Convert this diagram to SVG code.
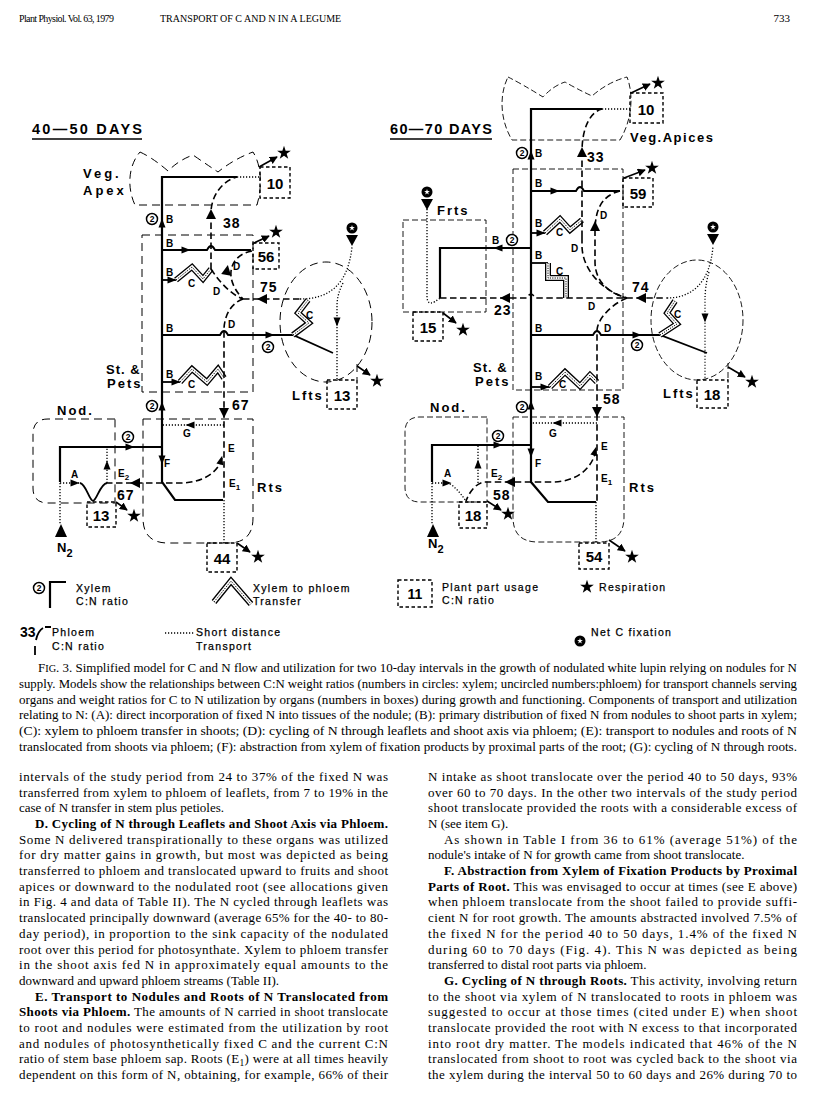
<svg xmlns="http://www.w3.org/2000/svg" xmlns:xlink="http://www.w3.org/1999/xlink" width="816" height="1102" viewBox="0 0 816 1102">
<style>
.xy{fill:none;stroke:#000;stroke-width:2.2}
.x1{fill:none;stroke:#000;stroke-width:1.8}
.ph{fill:none;stroke:#000;stroke-width:1.6;stroke-dasharray:6.5 3.5}
.dt{fill:none;stroke:#000;stroke-width:1.3;stroke-dasharray:1.2 1.8}
.org{fill:none;stroke:#000;stroke-width:1;stroke-dasharray:8 5}
.orgR{fill:none;stroke:#000;stroke-width:0.9;stroke-dasharray:6 3}
.box{fill:none;stroke:#000;stroke-width:1.4;stroke-dasharray:3.5 2.5}
.ra{fill:none;stroke:#000;stroke-width:1.6;marker-end:url(#mk)}
.t1{fill:none;stroke:#000;stroke-width:6}
.t2{fill:none;stroke:#fff;stroke-width:3.4}
.t3{fill:none;stroke:#000;stroke-width:1;stroke-dasharray:1.2 1.2}
.lb{font-family:"Liberation Sans",Arial,sans-serif;font-weight:bold;font-size:13px;letter-spacing:2px}
.sm{font-family:"Liberation Sans",Arial,sans-serif;font-weight:bold;font-size:10px}
.bn{font-family:"Liberation Sans",Arial,sans-serif;font-weight:bold;font-size:15px;text-anchor:middle}
.pn{font-family:"Liberation Sans",Arial,sans-serif;font-weight:bold;font-size:14px;letter-spacing:1px}
.ttl{font-family:"Liberation Sans",Arial,sans-serif;font-weight:bold;font-size:14.5px}
.lg{font-family:"Liberation Sans",Arial,sans-serif;font-size:10.5px;letter-spacing:1.3px;stroke:#000;stroke-width:0.25}
.c2t{font-family:"Liberation Sans",Arial,sans-serif;font-weight:bold;font-size:8.5px;text-anchor:middle}
.hd{font-family:"Liberation Serif","Times New Roman",serif;font-size:10px}
.cap{font-family:"Liberation Serif","Times New Roman",serif;font-size:12px}
.bd{font-family:"Liberation Serif","Times New Roman",serif;font-size:13px}
.bb{font-weight:bold}
</style>
<defs>
<path id="star" d="M0,-7.2 L1.63,-2.24 L6.85,-2.22 L2.64,0.85 L4.23,5.83 L0,2.77 L-4.23,5.83 L-2.64,0.85 L-6.85,-2.22 L-1.63,-2.24 Z"/>
<polygon id="ah" points="-4.5,-3.5 4.5,0 -4.5,3.5"/>
<polygon id="pa" points="-5,-5 5,0 -5,5"/>
<g id="cfix"><circle r="5.5" fill="#000"/><use xlink:href="#star" transform="scale(0.42)" fill="#fff"/><polygon points="-6,7 6,7 0,18" fill="#000"/></g>
<g id="c2"><circle r="5.5" fill="#fff" stroke="#000" stroke-width="1.5"/><text y="3.2" class="c2t">2</text></g>
<marker id="mk" viewBox="0 0 10 10" refX="9" refY="5" markerWidth="5" markerHeight="5" orient="auto"><path d="M0,0 L10,5 L0,10 Z"/></marker>
<path id="zL1" d="M176,280 L192,267 L203,279 L211,269"/>
<path id="zL2" d="M293,335 L309,323 L298,313 L308,300"/>
<path id="zL3" d="M180,382 L192,369 L207,382 L218,369 L224,378"/>
<path id="zR1" d="M545,233 L560,219 L570,230 L582,220"/>
<path id="zR2" d="M548,263 V278 H566 V298"/>
<path id="zR3" d="M660,335 L677,324 L667,313 L675,301"/>
<path id="zR4" d="M550,387 L565,372 L580,386 L590,375 L597,382"/>
<path id="zLg" d="M214,602 L231,581 L251,604"/>
</defs>
<rect width="816" height="1102" fill="#fff"/>

<g id="header">
<text class="hd" x="19" y="22" textLength="95">Plant Physiol. Vol. 63, 1979</text>
<text class="hd" x="160" y="22">TRANSPORT OF C AND N IN A LEGUME</text>
<text class="hd" x="790" y="22" text-anchor="end" style="font-size:11px">733</text>
</g>

<!-- LEFT DIAGRAM -->
<g id="left-title">
<text class="ttl" x="32" y="134" textLength="110">40—50 DAYS</text>
<line x1="32" y1="139" x2="142" y2="139" stroke="#000" stroke-width="1.5"/>
</g>
<g id="L-apex">
<path class="org" d="M140,152 Q153,158 168,171 Q179,160 193,155 Q206,164 218,172 Q234,159 253,152 C262,166 262,188 257,205 H135 C127,188 128,166 140,152 Z"/>
<text class="lb" x="83" y="178" style="letter-spacing:3px">Veg.</text>
<text class="lb" x="83" y="195" style="letter-spacing:3px">Apex</text>
<rect class="box" x="260" y="167" width="30" height="31"/>
<text class="bn" x="275" y="189">10</text>
<path class="ra" d="M259,167 L277,157"/>
<use xlink:href="#star" x="284" y="153"/>
</g>
<g id="L-stem">
<rect class="org" x="142" y="235" width="111" height="157"/>
<text class="lb" x="106" y="374" style="letter-spacing:1px">St. &amp;</text>
<text class="lb" x="107" y="388">Pets</text>
<rect class="box" x="253" y="243" width="26" height="26"/>
<text class="bn" x="266" y="262">56</text>
<path class="ra" d="M254,243 L269,236"/>
<use xlink:href="#star" x="276" y="232"/>
</g>
<g id="L-leaflets">
<ellipse class="org" cx="326" cy="322" rx="46" ry="60"/>
<path class="org" d="M357,364 V380"/>
<rect class="box" x="327" y="380" width="30" height="29"/>
<text class="bn" x="342" y="401">13</text>
<text class="lb" x="292" y="400">Lfts</text>
<path class="ra" d="M357,366 L370,375"/>
<use xlink:href="#star" x="377" y="381"/>
<use xlink:href="#cfix" x="352" y="228"/>
</g>
<g id="L-roots">
<path class="org" d="M143,419 H253 V518 Q253,543 228,543 H168 Q143,543 143,518 Z"/>
<text class="lb" x="257" y="492">Rts</text>
<rect class="box" x="207" y="543" width="30" height="29"/>
<text class="bn" x="222" y="564">44</text>
<path class="ra" d="M237,543 L250,552"/>
<use xlink:href="#star" x="258" y="557"/>
</g>
<g id="L-nodules">
<path class="org" d="M115,419 H48 Q33,419 33,434 V488 Q33,503 48,503 H115 Z"/>
<text class="lb" x="57" y="415">Nod.</text>
<rect class="box" x="87" y="502" width="29" height="25"/>
<text class="bn" x="101" y="521">13</text>
<path class="ra" d="M116,502 L127,510"/>
<use xlink:href="#star" x="134" y="516"/>
<polygon points="55,537 67,537 61,524" fill="#000"/>
<text class="lb" x="57" y="552" style="letter-spacing:0">N<tspan dy="5" font-size="11">2</tspan></text>
</g>
<g id="L-connectors">
<path class="xy" d="M237,177 H162 V482 L175,500 H223"/>
<path class="xy" d="M60,482 V447 H162"/>
<path class="x1" d="M162,250 H207 Q211,242 215,250 H251"/>
<path class="x1" d="M162,280 H176"/>
<path class="x1" d="M162,335 H220 Q224,327 228,335 H293 L333,353"/>
<path class="x1" d="M162,382 H180"/>
<path class="x1" d="M80,483 C86,484 89,500 93,501 C97,500 100,484 107,483"/>
<use xlink:href="#zL1" class="t1"/><use xlink:href="#zL1" class="t2"/><use xlink:href="#zL1" class="t3"/>
<use xlink:href="#zL2" class="t1"/><use xlink:href="#zL2" class="t2"/><use xlink:href="#zL2" class="t3"/>
<use xlink:href="#zL3" class="t1"/><use xlink:href="#zL3" class="t2"/><use xlink:href="#zL3" class="t3"/>
<path class="ph" d="M211,269 V213 C211,196 222,181 237,177"/>
<path class="ph" d="M252,251 C232,254 221,276 243,299"/>
<path class="ph" d="M211,269 C220,283 232,295 243,299"/>
<path class="ph" d="M243,299 H300"/>
<path class="ph" d="M243,299 C231,303 224,316 224,330 V500"/>
<path class="ph" d="M222,458 C218,474 200,483 180,483 H107"/>
<path class="dt" d="M237,177 H260"/>
<path class="dt" d="M300,299 C330,299 348,284 352,247"/>
<path class="dt" d="M343,283 C339,291 337,298 337,306 V380"/>
<path class="dt" d="M224,425 H162"/>
<path class="dt" d="M224,500 V543"/>
<path class="dt" d="M60,483 H80"/>
<path class="dt" d="M107,483 V447"/>
<path class="dt" d="M60,483 V524"/>
<use xlink:href="#ah" transform="translate(162,223) rotate(-90)"/>
<use xlink:href="#ah" transform="translate(162,406) rotate(-90)"/>
<use xlink:href="#ah" transform="translate(162,460) rotate(90)"/>
<use xlink:href="#ah" transform="translate(186,250)"/>
<use xlink:href="#ah" transform="translate(172,280)"/>
<use xlink:href="#ah" transform="translate(270,335)"/>
<use xlink:href="#ah" transform="translate(176,382)"/>
<use xlink:href="#ah" transform="translate(130,447)"/>
<use xlink:href="#ah" transform="translate(75,483)"/>
<use xlink:href="#ah" transform="translate(107,465) rotate(-90)"/>
<use xlink:href="#ah" transform="translate(190,425) rotate(180)"/>
<use xlink:href="#ah" transform="translate(337,322) rotate(90)"/>
<use xlink:href="#pa" transform="translate(211,214) rotate(-90)"/>
<use xlink:href="#pa" transform="translate(227,270) rotate(-80)"/>
<use xlink:href="#pa" transform="translate(262,299) rotate(180)"/>
<use xlink:href="#pa" transform="translate(224,413) rotate(90)"/>
<use xlink:href="#pa" transform="translate(135,483) rotate(180)"/>
<use xlink:href="#ah" transform="translate(221,460) rotate(-75)"/>
</g>
<g id="L-labels">
<use xlink:href="#c2" x="152" y="219"/>
<use xlink:href="#c2" x="152" y="406"/>
<use xlink:href="#c2" x="128" y="437"/>
<use xlink:href="#c2" x="268" y="347"/>
<text class="sm" x="166" y="223">B</text>
<text class="sm" x="166" y="247">B</text>
<text class="sm" x="166" y="276">B</text>
<text class="sm" x="166" y="332">B</text>
<text class="sm" x="166" y="378">B</text>
<text class="sm" x="188" y="287">C</text>
<text class="sm" x="306" y="319">C</text>
<text class="sm" x="188" y="388">C</text>
<text class="sm" x="233" y="270">D</text>
<text class="sm" x="213" y="295">D</text>
<text class="sm" x="228" y="328">D</text>
<text class="sm" x="228" y="452">E</text>
<text class="sm" x="229" y="487">E<tspan dy="3" font-size="8">1</tspan></text>
<text class="sm" x="164" y="467">F</text>
<text class="sm" x="183" y="437">G</text>
<text class="sm" x="71" y="478">A</text>
<text class="sm" x="118" y="477">E<tspan dy="3" font-size="8">2</tspan></text>
<text class="pn" x="223" y="228">38</text>
<text class="pn" x="260" y="292">75</text>
<text class="pn" x="232" y="410">67</text>
<text class="pn" x="117" y="500">67</text>
</g>

<!-- RIGHT DIAGRAM -->
<g id="right-title">
<text class="ttl" x="390" y="134" textLength="102">60—70 DAYS</text>
<line x1="390" y1="139" x2="492" y2="139" stroke="#000" stroke-width="1.5"/>
</g>
<g id="R-apices">
<path class="orgR" d="M508,77 Q522,84 543,97 Q553,86 565,82 Q577,89 592,96 Q608,82 627,77 C634,95 632,120 620,140 H512 C500,120 499,95 508,77 Z"/>
<text class="lb" x="630" y="142" style="letter-spacing:1.5px">Veg.Apices</text>
<rect class="box" x="630" y="93" width="33" height="30"/>
<text class="bn" x="646" y="115">10</text>
<path class="ra" d="M631,93 L650,84"/>
<use xlink:href="#star" x="658" y="83"/>
</g>
<g id="R-fruits">
<rect class="orgR" x="403" y="220" width="83" height="92"/>
<text class="lb" x="437" y="215">Frts</text>
<use xlink:href="#cfix" x="427" y="192"/>
<rect class="box" x="413" y="312" width="30" height="29"/>
<text class="bn" x="428" y="333">15</text>
<path class="ra" d="M443,313 L456,323"/>
<use xlink:href="#star" x="463" y="330"/>
</g>
<g id="R-stem">
<rect class="orgR" x="513" y="169" width="110" height="221"/>
<text class="lb" x="473" y="372" style="letter-spacing:1px">St. &amp;</text>
<text class="lb" x="475" y="386">Pets</text>
<rect class="box" x="623" y="178" width="30" height="29"/>
<text class="bn" x="638" y="199">59</text>
<path class="ra" d="M624,178 L645,170"/>
<use xlink:href="#star" x="652" y="168"/>
</g>
<g id="R-leaflets">
<ellipse class="orgR" cx="697" cy="320" rx="46" ry="60"/>
<path class="orgR" d="M728,363 V380"/>
<rect class="box" x="697" y="380" width="31" height="28"/>
<text class="bn" x="712" y="400">18</text>
<text class="lb" x="663" y="398">Lfts</text>
<path class="ra" d="M728,367 L745,377"/>
<use xlink:href="#star" x="752" y="382"/>
<use xlink:href="#cfix" x="713" y="227"/>
</g>
<g id="R-roots">
<path class="orgR" d="M513,417 H624 V517 Q624,542 599,542 H538 Q513,542 513,517 Z"/>
<text class="lb" x="629" y="492">Rts</text>
<rect class="box" x="579" y="543" width="30" height="26"/>
<text class="bn" x="594" y="562">54</text>
<path class="ra" d="M609,540 L625,551"/>
<use xlink:href="#star" x="632" y="557"/>
</g>
<g id="R-nodules">
<path class="orgR" d="M487,417 H420 Q405,417 405,432 V487 Q405,502 420,502 H487 Z"/>
<text class="lb" x="430" y="412">Nod.</text>
<rect class="box" x="459" y="502" width="28" height="26"/>
<text class="bn" x="473" y="521">18</text>
<path class="ra" d="M487,501 L501,510"/>
<use xlink:href="#star" x="508" y="514"/>
<polygon points="427,537 439,537 433,524" fill="#000"/>
<text class="lb" x="428" y="548" style="letter-spacing:0">N<tspan dy="5" font-size="11">2</tspan></text>
</g>
<g id="R-connectors">
<path class="xy" d="M602,109 H531 V482 L548,502 H596"/>
<path class="xy" d="M531,248 H440 V298"/>
<path class="xy" d="M432,482 V445 H531"/>
<path class="x1" d="M531,191 H576 Q580,183 584,191 H620"/>
<path class="x1" d="M531,233 H545"/>
<path class="x1" d="M531,263 H548"/>
<path class="x1" d="M531,335 H593 Q597,327 601,335 H660 L707,353"/>
<path class="x1" d="M531,387 H550"/>
<use xlink:href="#zR1" class="t1"/><use xlink:href="#zR1" class="t2"/><use xlink:href="#zR1" class="t3"/>
<use xlink:href="#zR2" class="t1"/><use xlink:href="#zR2" class="t2"/><use xlink:href="#zR2" class="t3"/>
<use xlink:href="#zR3" class="t1"/><use xlink:href="#zR3" class="t2"/><use xlink:href="#zR3" class="t3"/>
<use xlink:href="#zR4" class="t1"/><use xlink:href="#zR4" class="t2"/><use xlink:href="#zR4" class="t3"/>
<path class="ph" d="M582,237 V152 C582,128 590,112 602,109"/>
<path class="ph" d="M620,191 C600,196 595,212 595,232 V262 C595,282 610,294 627,298"/>
<path class="ph" d="M582,237 V247 C583,272 605,292 627,298"/>
<path class="ph" d="M440,298 H527 Q531,290 535,298 H667"/>
<path class="ph" d="M627,298 C612,304 598,318 597,330 V502"/>
<path class="ph" d="M596,450 C592,470 575,482 552,482 H485 C478,482 470,490 466,501"/>
<path class="dt" d="M602,109 H630"/>
<path class="dt" d="M667,298 C690,298 710,285 713,246"/>
<path class="dt" d="M709,272 C706,282 705,292 705,300 V380"/>
<path class="dt" d="M427,209 V296 C427,306 433,304 440,298"/>
<path class="dt" d="M597,423 H531"/>
<path class="dt" d="M596,502 V543"/>
<path class="dt" d="M432,483 H448 C455,486 461,494 466,501"/>
<path class="dt" d="M478,483 V445"/>
<path class="dt" d="M432,483 V524"/>
<use xlink:href="#ah" transform="translate(531,155) rotate(-90)"/>
<use xlink:href="#ah" transform="translate(531,405) rotate(-90)"/>
<use xlink:href="#ah" transform="translate(531,453) rotate(90)"/>
<use xlink:href="#ah" transform="translate(555,191)"/>
<use xlink:href="#ah" transform="translate(541,233)"/>
<use xlink:href="#ah" transform="translate(498,248) rotate(180)"/>
<use xlink:href="#ah" transform="translate(637,335)"/>
<use xlink:href="#ah" transform="translate(545,387)"/>
<use xlink:href="#ah" transform="translate(498,445)"/>
<use xlink:href="#ah" transform="translate(447,483)"/>
<use xlink:href="#ah" transform="translate(478,464) rotate(-90)"/>
<use xlink:href="#ah" transform="translate(557,423) rotate(180)"/>
<use xlink:href="#ah" transform="translate(705,318) rotate(90)"/>
<use xlink:href="#pa" transform="translate(582,152) rotate(-90)"/>
<use xlink:href="#pa" transform="translate(595,226) rotate(-90)"/>
<use xlink:href="#pa" transform="translate(505,298) rotate(180)"/>
<use xlink:href="#pa" transform="translate(641,298) rotate(180)"/>
<use xlink:href="#pa" transform="translate(597,412) rotate(90)"/>
<use xlink:href="#pa" transform="translate(510,482) rotate(180)"/>
<use xlink:href="#ah" transform="translate(595,451) rotate(-75)"/>
</g>
<g id="R-labels">
<use xlink:href="#c2" x="522" y="153"/>
<use xlink:href="#c2" x="512" y="240"/>
<use xlink:href="#c2" x="637" y="345"/>
<use xlink:href="#c2" x="522" y="407"/>
<use xlink:href="#c2" x="498" y="436"/>
<text class="sm" x="535" y="157">B</text>
<text class="sm" x="535" y="187">B</text>
<text class="sm" x="535" y="227">B</text>
<text class="sm" x="492" y="244">B</text>
<text class="sm" x="535" y="259">B</text>
<text class="sm" x="535" y="332">B</text>
<text class="sm" x="535" y="380">B</text>
<text class="sm" x="556" y="236">C</text>
<text class="sm" x="556" y="275">C</text>
<text class="sm" x="674" y="318">C</text>
<text class="sm" x="559" y="388">C</text>
<text class="sm" x="600" y="219">D</text>
<text class="sm" x="571" y="252">D</text>
<text class="sm" x="588" y="310">D</text>
<text class="sm" x="604" y="332">D</text>
<text class="sm" x="601" y="450">E</text>
<text class="sm" x="601" y="482">E<tspan dy="3" font-size="8">1</tspan></text>
<text class="sm" x="535" y="467">F</text>
<text class="sm" x="549" y="437">G</text>
<text class="sm" x="444" y="477">A</text>
<text class="sm" x="491" y="477">E<tspan dy="3" font-size="8">2</tspan></text>
<text class="pn" x="587" y="162">33</text>
<text class="pn" x="494" y="315">23</text>
<text class="pn" x="632" y="292">74</text>
<text class="pn" x="603" y="404">58</text>
<text class="pn" x="493" y="500">58</text>
</g>

<!-- LEGEND -->
<g id="legend">
<use xlink:href="#c2" x="39" y="588"/>
<path class="xy" d="M66,582 H50 V608"/>
<text class="lg" x="76" y="592">Xylem</text>
<text class="lg" x="76" y="605">C:N ratio</text>
<use xlink:href="#zLg" class="t1"/><use xlink:href="#zLg" class="t2"/><use xlink:href="#zLg" class="t3"/>
<text class="lg" x="253" y="592">Xylem to phloem</text>
<text class="lg" x="253" y="605">Transfer</text>
<rect class="box" x="398" y="580" width="34" height="27"/>
<text class="bn" x="415" y="599" style="font-size:14px">11</text>
<text class="lg" x="442" y="591">Plant part usage</text>
<text class="lg" x="442" y="604">C:N ratio</text>
<use xlink:href="#star" x="587" y="587"/>
<text class="lg" x="599" y="591">Respiration</text>
<text class="pn" x="20" y="637" style="letter-spacing:0">33</text>
<path class="x1" d="M36,640 Q38,631 43,628 M45,627 H51 M35,646 V655"/>
<text class="lg" x="52" y="636">Phloem</text>
<text class="lg" x="52" y="650">C:N ratio</text>
<path class="dt" d="M165,633 H194"/>
<text class="lg" x="196" y="636">Short distance</text>
<text class="lg" x="196" y="650">Transport</text>
<circle cx="580" cy="641" r="5.5" fill="#000"/>
<use xlink:href="#star" transform="translate(580,641) scale(0.42)" fill="#fff"/>
<text class="lg" x="591" y="636">Net C fixation</text>
</g>

<g id="caption" class="cap">
<text x="38" y="672" textLength="759" lengthAdjust="spacingAndGlyphs">F<tspan font-size="9.5">IG</tspan>. 3. Simplified model for C and N flow and utilization for two 10-day intervals in the growth of nodulated white lupin relying on nodules for N</text>
<text x="19" y="687.8" textLength="778" lengthAdjust="spacingAndGlyphs">supply. Models show the relationships between C:N weight ratios (numbers in circles: xylem; uncircled numbers:phloem) for transport channels serving</text>
<text x="19" y="703.6" textLength="778" lengthAdjust="spacingAndGlyphs">organs and weight ratios for C to N utilization by organs (numbers in boxes) during growth and functioning. Components of transport and utilization</text>
<text x="19" y="719.4" textLength="778" lengthAdjust="spacingAndGlyphs">relating to N: (A): direct incorporation of fixed N into tissues of the nodule; (B): primary distribution of fixed N from nodules to shoot parts in xylem;</text>
<text x="19" y="735.2" textLength="778" lengthAdjust="spacingAndGlyphs">(C): xylem to phloem transfer in shoots; (D): cycling of N through leaflets and shoot axis via phloem; (E): transport to nodules and roots of N</text>
<text x="19" y="751" textLength="778" lengthAdjust="spacingAndGlyphs">translocated from shoots via phloem; (F): abstraction from xylem of fixation products by proximal parts of the root; (G): cycling of N through roots.</text>
</g>

<g id="body-left" class="bd">
<text x="19" y="781" textLength="369">intervals of the study period from 24 to 37% of the fixed N was</text>
<text x="19" y="796.7" textLength="369">transferred from xylem to phloem of leaflets, from 7 to 19% in the</text>
<text x="19" y="812.4">case of N transfer in stem plus petioles.</text>
<text x="35" y="828" textLength="353" class="bb">D. Cycling of N through Leaflets and Shoot Axis via Phloem.</text>
<text x="19" y="843.7" textLength="369">Some N delivered transpirationally to these organs was utilized</text>
<text x="19" y="859.4" textLength="369">for dry matter gains in growth, but most was depicted as being</text>
<text x="19" y="875.1" textLength="369">transferred to phloem and translocated upward to fruits and shoot</text>
<text x="19" y="890.8" textLength="369">apices or downward to the nodulated root (see allocations given</text>
<text x="19" y="906.4" textLength="369">in Fig. 4 and data of Table II). The N cycled through leaflets was</text>
<text x="19" y="922.1" textLength="369">translocated principally downward (average 65% for the 40- to 80-</text>
<text x="19" y="937.8" textLength="369">day period), in proportion to the sink capacity of the nodulated</text>
<text x="19" y="953.5" textLength="369">root over this period for photosynthate. Xylem to phloem transfer</text>
<text x="19" y="969.2" textLength="369">in the shoot axis fed N in approximately equal amounts to the</text>
<text x="19" y="984.8">downward and upward phloem streams (Table II).</text>
<text x="35" y="1000.5" textLength="353" class="bb">E. Transport to Nodules and Roots of N Translocated from</text>
<text x="19" y="1016.2" textLength="369"><tspan class="bb">Shoots via Phloem.</tspan> The amounts of N carried in shoot translocate</text>
<text x="19" y="1031.9" textLength="369">to root and nodules were estimated from the utilization by root</text>
<text x="19" y="1047.6" textLength="369">and nodules of photosynthetically fixed C and the current C:N</text>
<text x="19" y="1063.2" textLength="369">ratio of stem base phloem sap. Roots (E<tspan dy="3" font-size="9.5">1</tspan><tspan dy="-3">) were at all times heavily</tspan></text>
<text x="19" y="1078.9" textLength="369">dependent on this form of N, obtaining, for example, 66% of their</text>
</g>

<g id="body-right" class="bd">
<text x="428" y="781" textLength="369">N intake as shoot translocate over the period 40 to 50 days, 93%</text>
<text x="428" y="796.7" textLength="369">over 60 to 70 days. In the other two intervals of the study period</text>
<text x="428" y="812.4" textLength="369">shoot translocate provided the roots with a considerable excess of</text>
<text x="428" y="828">N (see item G).</text>
<text x="444" y="843.7" textLength="353">As shown in Table I from 36 to 61% (average 51%) of the</text>
<text x="428" y="859.4">nodule's intake of N for growth came from shoot translocate.</text>
<text x="444" y="875.1" textLength="353" class="bb">F. Abstraction from Xylem of Fixation Products by Proximal</text>
<text x="428" y="890.8" textLength="369"><tspan class="bb">Parts of Root.</tspan> This was envisaged to occur at times (see E above)</text>
<text x="428" y="906.4" textLength="369">when phloem translocate from the shoot failed to provide suffi-</text>
<text x="428" y="922.1" textLength="369">cient N for root growth. The amounts abstracted involved 7.5% of</text>
<text x="428" y="937.8" textLength="369">the fixed N for the period 40 to 50 days, 1.4% of the fixed N</text>
<text x="428" y="953.5" textLength="369">during 60 to 70 days (Fig. 4). This N was depicted as being</text>
<text x="428" y="969.2">transferred to distal root parts via phloem.</text>
<text x="444" y="984.8" textLength="353"><tspan class="bb">G. Cycling of N through Roots.</tspan> This activity, involving return</text>
<text x="428" y="1000.5" textLength="369">to the shoot via xylem of N translocated to roots in phloem was</text>
<text x="428" y="1016.2" textLength="369">suggested to occur at those times (cited under E) when shoot</text>
<text x="428" y="1031.9" textLength="369">translocate provided the root with N excess to that incorporated</text>
<text x="428" y="1047.6" textLength="369">into root dry matter. The models indicated that 46% of the N</text>
<text x="428" y="1063.2" textLength="369">translocated from shoot to root was cycled back to the shoot via</text>
<text x="428" y="1078.9" textLength="369">the xylem during the interval 50 to 60 days and 26% during 70 to</text>
</g>
</svg>
